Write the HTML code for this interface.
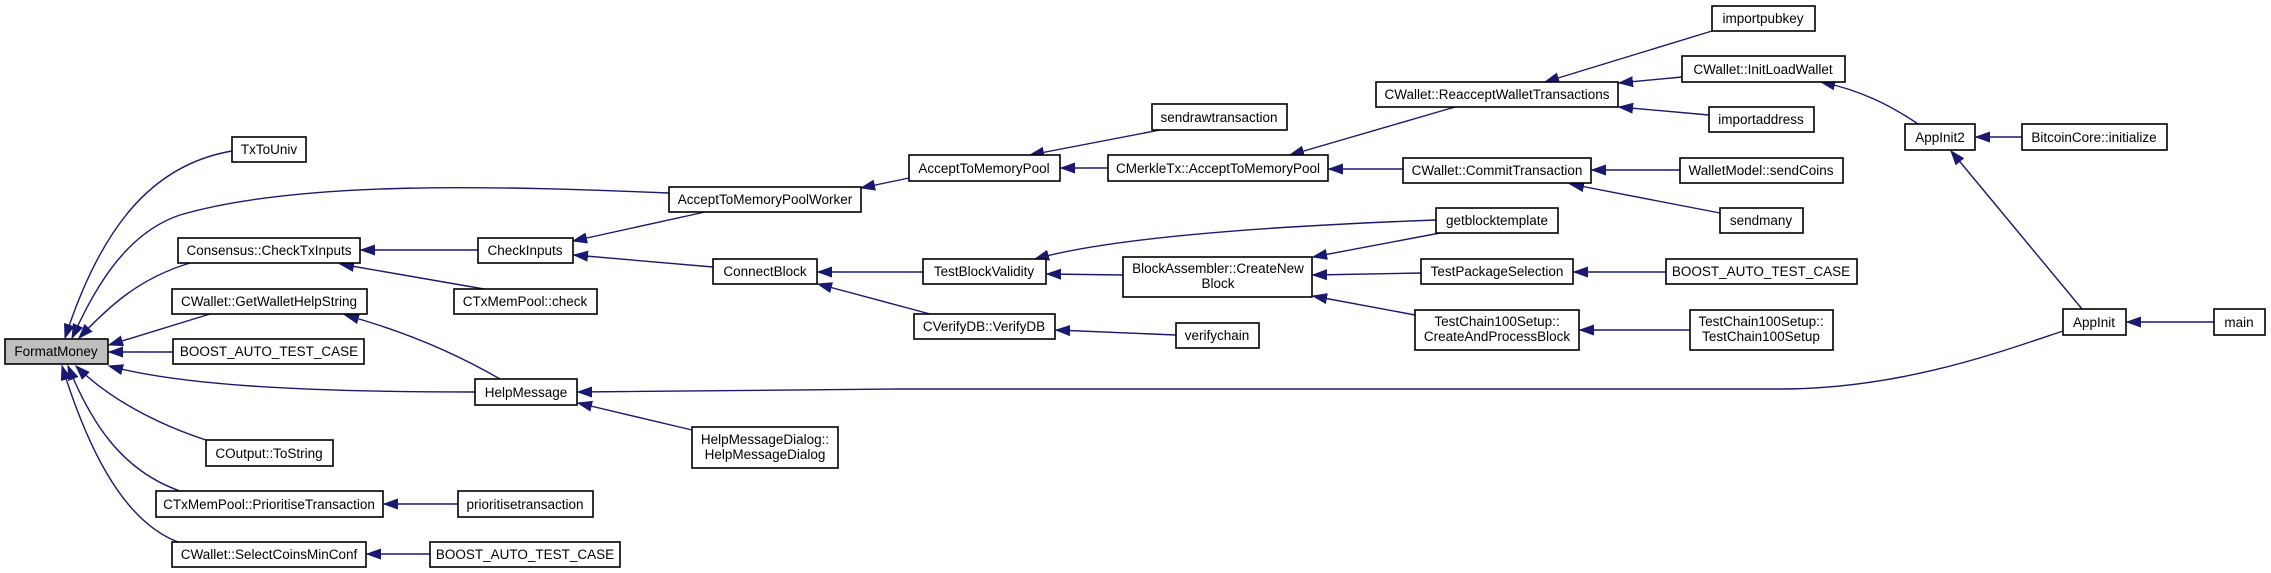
<!DOCTYPE html>
<html><head><meta charset="utf-8"><style>
html,body{margin:0;padding:0;background:#fff}
svg{display:block}
text{font-family:"Liberation Sans",Arial,sans-serif;font-size:13.5px;fill:#000;text-anchor:middle}
.b{fill:#fff;stroke:#000;stroke-width:1.6}
.e{fill:none;stroke:#191970;stroke-width:1.4}
</style></head><body>
<svg width="2271" height="573" viewBox="0 0 2271 573" xmlns="http://www.w3.org/2000/svg">
<defs><marker id="a" markerUnits="userSpaceOnUse" markerWidth="16" markerHeight="12" refX="14" refY="6" orient="auto"><path d="M0,1 L14,6 L0,11 Z" fill="#191970" stroke="#191970"/></marker></defs>
<g marker-end="url(#a)">
<path class="e" d="M232,151 C150,165 100,230 65,338"/>
<path class="e" d="M669,193 C500,186 300,180 180,215 C120,235 90,300 72,338"/>
<path class="e" d="M190,263 C140,278 110,305 79,338"/>
<path class="e" d="M210,314 L109,345"/>
<path class="e" d="M173,352 L109,352"/>
<path class="e" d="M475,392 C300,392 180,385 109,366"/>
<path class="e" d="M206,440 C160,425 110,400 76,366"/>
<path class="e" d="M180,491 C120,470 90,420 68,366"/>
<path class="e" d="M178,542 C120,520 85,440 62,366"/>
<path class="e" d="M478,250 L361,250"/>
<path class="e" d="M484,289 L340,264"/>
<path class="e" d="M500,379 C450,350 400,330 345,315"/>
<path class="e" d="M458,504 L384,504"/>
<path class="e" d="M430,554 L367,554"/>
<path class="e" d="M705,212 L573,241"/>
<path class="e" d="M713,267 L574,255"/>
<path class="e" d="M692,430 L578,403"/>
<path class="e" d="M2063,331 C2000,352 1900,389 1780,389 L900,389 C700,390 620,392 578,392"/>
<path class="e" d="M909,178 L861,188"/>
<path class="e" d="M1160,130 L1030,155"/>
<path class="e" d="M1108,168 L1061,168"/>
<path class="e" d="M1455,107 L1290,155"/>
<path class="e" d="M1403,169 L1329,169"/>
<path class="e" d="M923,272 L818,272"/>
<path class="e" d="M930,314 L818,284"/>
<path class="e" d="M1176,335 L1056,330"/>
<path class="e" d="M1123,275 L1047,274"/>
<path class="e" d="M1436,220 C1300,225 1120,235 1035,259"/>
<path class="e" d="M1440,233 L1313,257"/>
<path class="e" d="M1421,273 L1313,275"/>
<path class="e" d="M1415,315 L1313,296"/>
<path class="e" d="M1712,31 L1545,82"/>
<path class="e" d="M1682,77 L1619,83"/>
<path class="e" d="M1709,115 L1619,107"/>
<path class="e" d="M1680,170 L1592,170"/>
<path class="e" d="M1720,213 L1570,184"/>
<path class="e" d="M1666,272 L1574,272"/>
<path class="e" d="M1690,330 L1580,330"/>
<path class="e" d="M1918,124 C1890,105 1860,90 1821,82"/>
<path class="e" d="M2022,137 L1976,137"/>
<path class="e" d="M2082,309 L1951,151"/>
<path class="e" d="M2214,322 L2127,322"/>
</g>
<g>
<rect x="5" y="339" width="103" height="25" fill="#bfbfbf" stroke="#000" stroke-width="1.6"/><text x="56" y="356">FormatMoney</text>
<rect class="b" x="232" y="137" width="74" height="25"/><text x="269" y="154">TxToUniv</text>
<rect class="b" x="178" y="238" width="182" height="25"/><text x="269" y="255">Consensus::CheckTxInputs</text>
<rect class="b" x="172" y="289" width="195" height="25"/><text x="269" y="306">CWallet::GetWalletHelpString</text>
<rect class="b" x="173" y="339" width="191" height="25"/><text x="269" y="356">BOOST_AUTO_TEST_CASE</text>
<rect class="b" x="206" y="440" width="127" height="26"/><text x="269" y="458">COutput::ToString</text>
<rect class="b" x="156" y="491" width="227" height="26"/><text x="269" y="509">CTxMemPool::PrioritiseTransaction</text>
<rect class="b" x="172" y="542" width="194" height="25"/><text x="269" y="559">CWallet::SelectCoinsMinConf</text>
<rect class="b" x="669" y="187" width="192" height="25"/><text x="765" y="204">AcceptToMemoryPoolWorker</text>
<rect class="b" x="478" y="238" width="95" height="25"/><text x="525" y="255">CheckInputs</text>
<rect class="b" x="454" y="289" width="143" height="25"/><text x="525" y="306">CTxMemPool::check</text>
<rect class="b" x="475" y="379" width="102" height="26"/><text x="526" y="397">HelpMessage</text>
<rect class="b" x="458" y="491" width="135" height="26"/><text x="525" y="509">prioritisetransaction</text>
<rect class="b" x="430" y="542" width="190" height="25"/><text x="525" y="559">BOOST_AUTO_TEST_CASE</text>
<rect class="b" x="692" y="427" width="146" height="41"/><text x="765" y="444">HelpMessageDialog::</text><text x="765" y="459">HelpMessageDialog</text>
<rect class="b" x="713" y="259" width="104" height="25"/><text x="765" y="276">ConnectBlock</text>
<rect class="b" x="909" y="155" width="151" height="26"/><text x="984" y="173">AcceptToMemoryPool</text>
<rect class="b" x="1152" y="104" width="135" height="26"/><text x="1219" y="122">sendrawtransaction</text>
<rect class="b" x="1108" y="155" width="220" height="26"/><text x="1218" y="173">CMerkleTx::AcceptToMemoryPool</text>
<rect class="b" x="923" y="259" width="123" height="25"/><text x="984" y="276">TestBlockValidity</text>
<rect class="b" x="914" y="314" width="141" height="25"/><text x="984" y="331">CVerifyDB::VerifyDB</text>
<rect class="b" x="1123" y="257" width="189" height="40"/><text x="1218" y="273">BlockAssembler::CreateNew</text><text x="1218" y="288">Block</text>
<rect class="b" x="1176" y="323" width="83" height="25"/><text x="1217" y="340">verifychain</text>
<rect class="b" x="1376" y="82" width="242" height="25"/><text x="1497" y="99">CWallet::ReacceptWalletTransactions</text>
<rect class="b" x="1403" y="158" width="188" height="25"/><text x="1497" y="175">CWallet::CommitTransaction</text>
<rect class="b" x="1436" y="208" width="122" height="25"/><text x="1497" y="225">getblocktemplate</text>
<rect class="b" x="1421" y="259" width="152" height="25"/><text x="1497" y="276">TestPackageSelection</text>
<rect class="b" x="1415" y="310" width="164" height="40"/><text x="1497" y="326">TestChain100Setup::</text><text x="1497" y="341">CreateAndProcessBlock</text>
<rect class="b" x="1712" y="6" width="103" height="25"/><text x="1763" y="23">importpubkey</text>
<rect class="b" x="1682" y="56" width="163" height="26"/><text x="1763" y="74">CWallet::InitLoadWallet</text>
<rect class="b" x="1709" y="107" width="105" height="25"/><text x="1761" y="124">importaddress</text>
<rect class="b" x="1680" y="158" width="163" height="25"/><text x="1761" y="175">WalletModel::sendCoins</text>
<rect class="b" x="1720" y="208" width="83" height="25"/><text x="1761" y="225">sendmany</text>
<rect class="b" x="1666" y="259" width="191" height="25"/><text x="1761" y="276">BOOST_AUTO_TEST_CASE</text>
<rect class="b" x="1690" y="310" width="143" height="40"/><text x="1761" y="326">TestChain100Setup::</text><text x="1761" y="341">TestChain100Setup</text>
<rect class="b" x="1905" y="124" width="70" height="26"/><text x="1940" y="142">AppInit2</text>
<rect class="b" x="2022" y="124" width="145" height="26"/><text x="2094" y="142">BitcoinCore::initialize</text>
<rect class="b" x="2063" y="309" width="63" height="26"/><text x="2094" y="327">AppInit</text>
<rect class="b" x="2214" y="309" width="51" height="26"/><text x="2239" y="327">main</text>
</g>
</svg>
</body></html>
